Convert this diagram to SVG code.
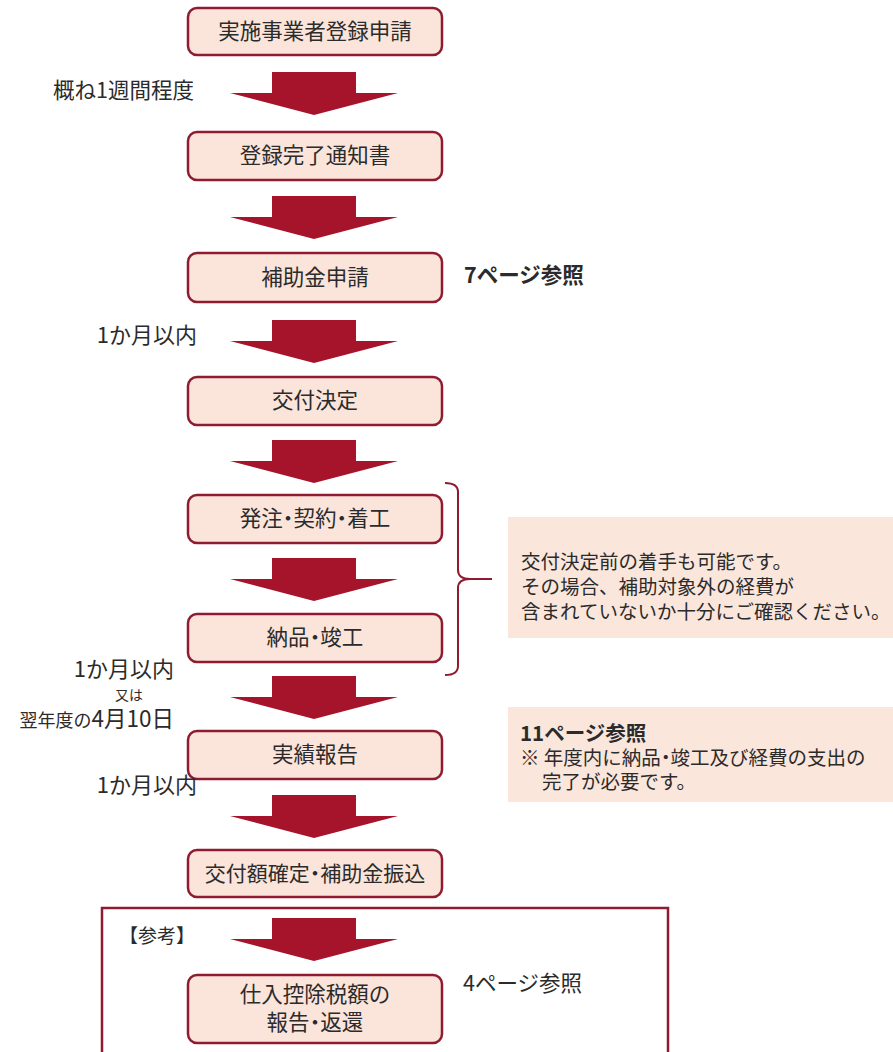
<svg xmlns="http://www.w3.org/2000/svg" width="893" height="1052" viewBox="0 0 893 1052">
<defs>
<style>
text{font-family:"Noto Sans CJK JP","Noto Sans",sans-serif;fill:#2b2b2b;}
.box{fill:#fbe4da;stroke:#8e1b30;stroke-width:2.5;}
.bt{font-size:21.5px;text-anchor:middle;}
.h{font-feature-settings:"halt";}
.arrow{fill:#a6142b;}
.lbl{font-size:22px;}
.end{text-anchor:end;}
.note{fill:#fbe6dc;}
.nt{font-size:19.5px;}
.line{fill:none;stroke:#8e1b30;stroke-width:2;}
</style>
<g id="arr"><path class="arrow" d="M272,0H356V21H398L314,43L230,21H272Z"/></g>
</defs>
<g id="connectors">
<use href="#arr" x="0" y="72"/>
<use href="#arr" x="0" y="196"/>
<use href="#arr" x="0" y="320"/>
<use href="#arr" x="0" y="440"/>
<use href="#arr" x="0" y="558"/>
<use href="#arr" x="0" y="676"/>
<use href="#arr" x="0" y="795"/>
<use href="#arr" x="0" y="918"/>
<path class="line" d="M445,483Q458,483 458,492V570Q458,579 470,579H492M470,579Q458,579 458,588V666Q458,675 445,675"/>
</g>
<g id="frame"><rect x="102" y="908" width="566" height="160" fill="none" stroke="#8e1b30" stroke-width="2.5"/></g>
<g id="n1"><rect class="box" x="188" y="8" width="254" height="47" rx="9"/><text class="bt" x="315" y="39">実施事業者登録申請</text></g>
<g id="n2"><rect class="box" x="188" y="132" width="254" height="48" rx="9"/><text class="bt" x="315" y="163">登録完了通知書</text></g>
<g id="n3"><rect class="box" x="188" y="253" width="254" height="49" rx="9"/><text class="bt" x="315" y="285">補助金申請</text></g>
<g id="n4"><rect class="box" x="188" y="377" width="254" height="48" rx="9"/><text class="bt" x="315" y="408">交付決定</text></g>
<g id="n5"><rect class="box" x="188" y="495" width="254" height="48" rx="9"/><text class="bt h" x="315" y="526">発注・契約・着工</text></g>
<g id="n6"><rect class="box" x="188" y="614" width="254" height="48" rx="9"/><text class="bt h" x="315" y="645">納品・竣工</text></g>
<g id="n7"><rect class="box" x="188" y="731" width="254" height="48" rx="9"/><text class="bt" x="315" y="762">実績報告</text></g>
<g id="n8"><rect class="box" x="188" y="850" width="254" height="47" rx="9"/><text class="bt h" x="315" y="881" style="font-size:21px">交付額確定・補助金振込</text></g>
<g id="n9"><rect class="box" x="188" y="975" width="254" height="68" rx="9"/><text class="bt" x="315" y="1002">仕入控除税額の</text><text class="bt h" x="315" y="1030">報告・返還</text></g>
<g id="labels">
<text x="53" y="98" style="font-size:21.5px">概ね1週間程度</text>
<text x="464" y="283" style="font-size:21.5px;font-weight:bold">7ページ参照</text>
<text class="lbl end" x="197" y="343">1か月以内</text>
<text class="lbl end" x="174" y="677">1か月以内</text>
<text class="end" x="143" y="700" style="font-size:14px">又は</text>
<text class="end" x="174" y="727"><tspan style="font-size:18px">翌年度の</tspan><tspan style="font-size:22.5px">4月10日</tspan></text>
<text class="lbl end" x="197" y="793">1か月以内</text>
<text x="119" y="943" style="font-size:19px">【参考】</text>
<text x="463" y="991" style="font-size:21.5px">4ページ参照</text>
</g>
<g id="noteA"><rect class="note" x="508" y="517" width="385" height="121"/>
<text class="nt" x="521" y="569">交付決定前の着手も可能です。</text>
<text class="nt" x="521" y="594">その場合、補助対象外の経費が</text>
<text class="nt" x="521" y="619">含まれていないか十分にご確認ください。</text></g>
<g id="noteB"><rect class="note" x="508" y="707" width="385" height="95"/>
<text x="520" y="741" style="font-size:20.5px;font-weight:bold">11ページ参照</text>
<text class="nt h" x="520" y="765">※ 年度内に納品・竣工及び経費の支出の</text>
<text class="nt" x="542" y="789">完了が必要です。</text></g>
</svg>
